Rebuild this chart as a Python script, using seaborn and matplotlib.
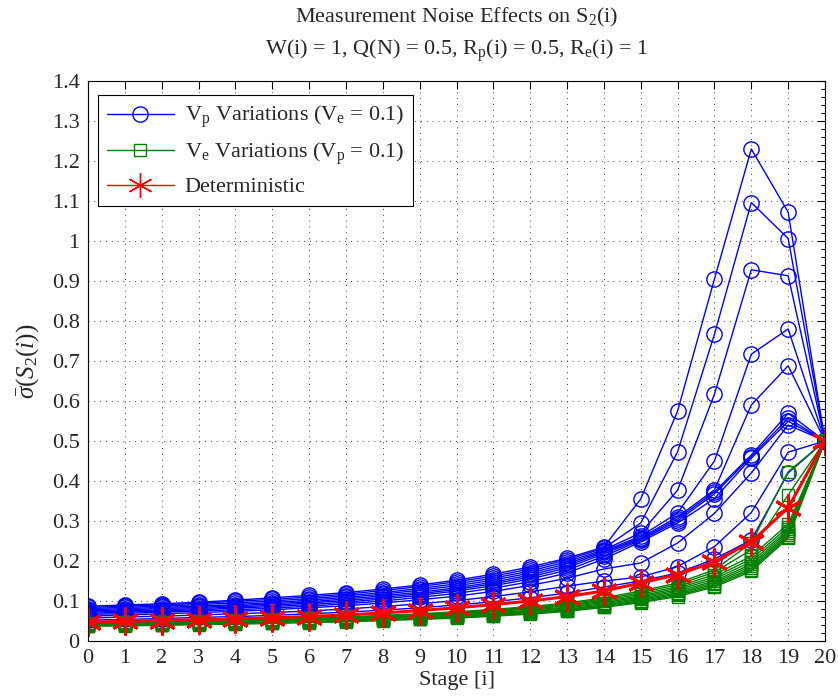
import numpy as np
import pandas as pd
import matplotlib
matplotlib.use("Agg")
import matplotlib.pyplot as plt
from matplotlib.lines import Line2D
from matplotlib.ticker import MultipleLocator
import seaborn as sns

stages = list(range(21))

# V_p variations (V_e = 0.1)
vp_curves = [
    [0.087, 0.090, 0.093, 0.097, 0.102, 0.108, 0.114, 0.121, 0.130, 0.140, 0.152, 0.167, 0.185, 0.207, 0.235, 0.355, 0.575, 0.905, 1.230, 1.072, 0.5],
    [0.084, 0.087, 0.090, 0.094, 0.099, 0.104, 0.110, 0.117, 0.126, 0.136, 0.148, 0.162, 0.180, 0.203, 0.232, 0.295, 0.473, 0.767, 1.096, 1.006, 0.5],
    [0.081, 0.084, 0.087, 0.091, 0.095, 0.100, 0.106, 0.113, 0.121, 0.131, 0.143, 0.157, 0.175, 0.198, 0.228, 0.270, 0.377, 0.617, 0.928, 0.913, 0.5],
    [0.078, 0.081, 0.084, 0.087, 0.091, 0.096, 0.102, 0.109, 0.117, 0.127, 0.138, 0.152, 0.170, 0.193, 0.225, 0.262, 0.320, 0.450, 0.717, 0.780, 0.5],
    [0.075, 0.078, 0.081, 0.084, 0.088, 0.093, 0.098, 0.105, 0.113, 0.122, 0.133, 0.147, 0.165, 0.188, 0.222, 0.258, 0.310, 0.378, 0.590, 0.688, 0.5],
    [0.072, 0.075, 0.078, 0.081, 0.085, 0.089, 0.095, 0.101, 0.109, 0.118, 0.129, 0.143, 0.160, 0.183, 0.218, 0.255, 0.305, 0.373, 0.465, 0.569, 0.5],
    [0.069, 0.072, 0.075, 0.078, 0.082, 0.086, 0.091, 0.097, 0.105, 0.114, 0.125, 0.138, 0.155, 0.177, 0.212, 0.252, 0.300, 0.368, 0.461, 0.557, 0.5],
    [0.066, 0.069, 0.072, 0.075, 0.078, 0.082, 0.087, 0.093, 0.100, 0.109, 0.119, 0.132, 0.148, 0.170, 0.205, 0.248, 0.295, 0.356, 0.457, 0.549, 0.5],
    [0.062, 0.065, 0.068, 0.071, 0.074, 0.078, 0.083, 0.088, 0.095, 0.103, 0.112, 0.124, 0.139, 0.157, 0.180, 0.195, 0.245, 0.319, 0.420, 0.540, 0.5],
    [0.057, 0.060, 0.062, 0.065, 0.068, 0.071, 0.075, 0.080, 0.086, 0.093, 0.101, 0.111, 0.123, 0.137, 0.150, 0.160, 0.186, 0.236, 0.321, 0.472, 0.5],
    [0.052, 0.054, 0.056, 0.059, 0.061, 0.064, 0.068, 0.072, 0.077, 0.083, 0.090, 0.098, 0.108, 0.120, 0.135, 0.150, 0.170, 0.205, 0.2525, 0.420, 0.5],
]

# V_e variations (V_p = 0.1)
ve_curves = [
    [0.045, 0.047, 0.048, 0.050, 0.052, 0.054, 0.057, 0.060, 0.064, 0.068, 0.073, 0.079, 0.086, 0.095, 0.108, 0.125, 0.145, 0.178, 0.245, 0.423, 0.5],
    [0.044, 0.046, 0.047, 0.049, 0.051, 0.053, 0.056, 0.059, 0.062, 0.066, 0.071, 0.077, 0.084, 0.093, 0.105, 0.121, 0.141, 0.172, 0.228, 0.365, 0.5],
    [0.043, 0.045, 0.046, 0.048, 0.050, 0.052, 0.054, 0.057, 0.060, 0.064, 0.069, 0.075, 0.082, 0.090, 0.102, 0.117, 0.136, 0.166, 0.212, 0.292, 0.5],
    [0.042, 0.044, 0.045, 0.047, 0.049, 0.051, 0.053, 0.056, 0.059, 0.063, 0.067, 0.073, 0.080, 0.088, 0.099, 0.113, 0.132, 0.160, 0.205, 0.285, 0.5],
    [0.041, 0.043, 0.044, 0.046, 0.048, 0.050, 0.052, 0.054, 0.057, 0.061, 0.065, 0.070, 0.077, 0.085, 0.096, 0.110, 0.128, 0.155, 0.198, 0.279, 0.5],
    [0.040, 0.042, 0.043, 0.045, 0.046, 0.048, 0.050, 0.053, 0.056, 0.059, 0.063, 0.068, 0.075, 0.083, 0.093, 0.107, 0.124, 0.150, 0.192, 0.274, 0.5],
    [0.039, 0.041, 0.042, 0.044, 0.045, 0.047, 0.049, 0.052, 0.054, 0.058, 0.062, 0.066, 0.073, 0.080, 0.090, 0.104, 0.120, 0.146, 0.187, 0.269, 0.5],
    [0.038, 0.040, 0.041, 0.043, 0.044, 0.046, 0.048, 0.050, 0.053, 0.056, 0.060, 0.065, 0.071, 0.078, 0.088, 0.101, 0.117, 0.142, 0.182, 0.265, 0.5],
    [0.038, 0.039, 0.040, 0.042, 0.043, 0.045, 0.047, 0.049, 0.052, 0.055, 0.059, 0.063, 0.069, 0.076, 0.086, 0.098, 0.114, 0.138, 0.178, 0.261, 0.5],
    [0.037, 0.038, 0.039, 0.041, 0.042, 0.044, 0.046, 0.048, 0.051, 0.054, 0.057, 0.062, 0.067, 0.074, 0.084, 0.096, 0.111, 0.135, 0.174, 0.257, 0.5],
]

# Deterministic
deterministic = [0.047, 0.049, 0.051, 0.053, 0.055, 0.058, 0.061, 0.065, 0.070, 0.076, 0.083, 0.091,
                 0.100, 0.111, 0.125, 0.145, 0.166, 0.198, 0.248, 0.333, 0.5]

legend_labels = [r"V$_\mathrm{p}$ Variations (V$_\mathrm{e}$ = 0.1)",
                 r"V$_\mathrm{e}$ Variations (V$_\mathrm{p}$ = 0.1)",
                 "Deterministic"]


def to_long(curves):
    rows = []
    for k, c in enumerate(curves):
        for s, v in zip(stages, c):
            rows.append({"stage": s, "value": v, "curve": k})
    return pd.DataFrame(rows)


df_vp = to_long(vp_curves)
df_ve = to_long(ve_curves)
df_det = pd.DataFrame({"stage": stages, "value": deterministic, "curve": 0})

sns.set_style("white")
plt.rcParams["font.family"] = ["Liberation Serif", "DejaVu Serif"]
plt.rcParams["mathtext.fontset"] = "custom"
plt.rcParams["mathtext.rm"] = "Liberation Serif"
plt.rcParams["mathtext.it"] = "Liberation Serif:italic"
plt.rcParams["mathtext.bf"] = "Liberation Serif:bold"

BLUE = (0, 0, 1)
GREEN = (0, 0.5, 0)
RED = (1, 0, 0)
ASTER = (6, 2, 0)

fig = plt.figure(figsize=(8.38, 6.98), dpi=100)
ax = fig.add_axes([0.1050, 0.0817, 0.8795, 0.8023])

sns.lineplot(data=df_vp, x="stage", y="value", units="curve", estimator=None,
             color=BLUE, lw=1.0, marker="o", markersize=11, markerfacecolor="none",
             markeredgecolor=BLUE, markeredgewidth=1.0, legend=False, ax=ax)
sns.lineplot(data=df_ve, x="stage", y="value", units="curve", estimator=None,
             color=GREEN, lw=1.0, marker="s", markersize=8.5, markerfacecolor="none",
             markeredgecolor=GREEN, markeredgewidth=1.0, legend=False, ax=ax)
sns.lineplot(data=df_det, x="stage", y="value", units="curve", estimator=None,
             color=RED, lw=2.2, marker=ASTER, markersize=20, markerfacecolor=RED,
             markeredgecolor=RED, markeredgewidth=2.2, legend=False, ax=ax)

ax.set_xlim(0, 20)
ax.set_ylim(0, 1.4)
ax.xaxis.set_major_locator(MultipleLocator(1))
ax.yaxis.set_major_locator(MultipleLocator(0.1))
ax.yaxis.set_minor_locator(MultipleLocator(0.02))
ax.set_yticklabels([("%g" % t) for t in np.round(ax.get_yticks(), 2)])
ax.grid(True, which="major", linestyle=(0, (1, 6)), color="black", linewidth=0.6)
ax.tick_params(which="both", direction="in", top=True, right=True, labelsize=16,
               color="black", width=0.8)
ax.tick_params(which="major", length=6, pad=6)
ax.tick_params(which="minor", length=3)
for sp in ax.spines.values():
    sp.set_color("black")
    sp.set_linewidth(0.8)

ax.set_xlabel("Stage [i]", fontsize=16, labelpad=2)
ax.set_ylabel(r"$\bar{\sigma}(S_2(i))$", fontsize=18, labelpad=8)
ax.set_title("Measurement Noise Effects on S$_2$(i)\n"
             r"W(i) = 1, Q(N) = 0.5, R$_\mathrm{p}$(i) = 0.5, R$_\mathrm{e}$(i) = 1",
             fontsize=16, pad=19, linespacing=1.45)

handles = [
    Line2D([], [], color=BLUE, lw=1.0, marker="o", markersize=11, markerfacecolor="none",
           markeredgecolor=BLUE),
    Line2D([], [], color=GREEN, lw=1.0, marker="s", markersize=8.5, markerfacecolor="none",
           markeredgecolor=GREEN),
    Line2D([], [], color=RED, lw=1.0, marker=ASTER, markersize=18, markeredgecolor=RED,
           markeredgewidth=1.0),
]
leg = ax.legend(handles, legend_labels, loc="upper left", bbox_to_anchor=(0.0136, 0.975),
                fontsize=16, frameon=True, fancybox=False, framealpha=1, edgecolor="black",
                handlelength=3.0, handletextpad=0.5, labelspacing=0.45, borderpad=0.4,
                borderaxespad=0.0)
leg.get_frame().set_linewidth(0.8)

fig.savefig("out.png", dpi=100)
